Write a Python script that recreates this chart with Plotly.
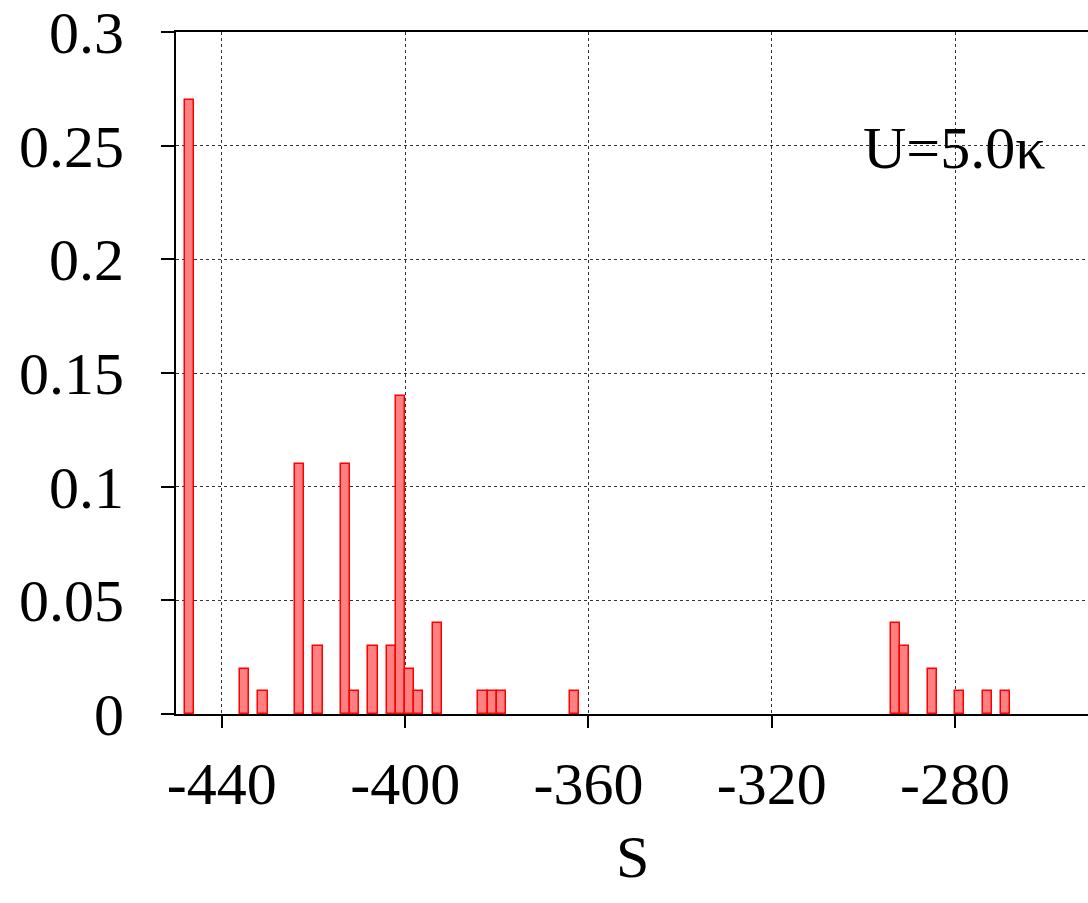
import plotly.graph_objects as go

# bin centres (bin width 2) and fractions
s_centers = [-447, -435, -431, -423, -419, -413, -411, -407, -403, -401, -399, -397,
             -393, -383, -381, -379, -363, -293, -291, -285, -279, -273, -269]
fractions = [0.27, 0.02, 0.01, 0.11, 0.03, 0.11, 0.01, 0.03, 0.03, 0.14, 0.02, 0.01,
             0.04, 0.01, 0.01, 0.01, 0.01, 0.04, 0.03, 0.02, 0.01, 0.01, 0.01]
bin_width = 2
x_ticks = [-440, -400, -360, -320, -280]
y_ticks = [0, 0.05, 0.1, 0.15, 0.2, 0.25, 0.3]
y_tick_labels = ["0", "0.05", "0.1", "0.15", "0.2", "0.25", "0.3"]

FONT = "Liberation Serif"
FS = 60
W, H = 1088, 903
L, R, T, B = 176, 0, 32, 903 - 714
pw = W - L - R
ph = H - T - B


def py(page_y):
    return (T + ph - page_y) / ph


def px(page_x):
    return (page_x - L) / pw


fig = go.Figure()
fig.add_trace(go.Bar(
    x=s_centers, y=fractions, width=[bin_width] * len(s_centers),
    marker=dict(color="#ff8080", line=dict(color="#ff0000", width=1.5)),
    showlegend=False,
))

fig.update_layout(
    width=W, height=H,
    margin=dict(l=L, r=R, t=T, b=B, autoexpand=False),
    plot_bgcolor="white", paper_bgcolor="white",
    font=dict(family=FONT, size=FS, color="black"),
    bargap=0,
    xaxis=dict(
        range=[-450, -251], tickvals=x_ticks, ticktext=[str(v) for v in x_ticks],
        showline=True, linecolor="black", linewidth=2, mirror=True,
        ticks="outside", ticklen=12, tickwidth=2, tickcolor="black",
        showgrid=True, gridcolor="#333333", gridwidth=1, griddash="dot",
        zeroline=False, ticklabelstandoff=4, automargin=False,
        tickfont=dict(family=FONT, size=FS),
    ),
    yaxis=dict(
        range=[0, 0.3], tickvals=y_ticks, ticktext=y_tick_labels,
        showline=True, linecolor="black", linewidth=2, mirror=False,
        ticks="outside", ticklen=13, tickwidth=2, tickcolor="black",
        showgrid=True, gridcolor="#333333", gridwidth=1, griddash="dot",
        zeroline=False, ticklabelstandoff=25, automargin=False,
        tickfont=dict(family=FONT, size=FS),
    ),
    annotations=[
        dict(x=px(1047), y=py(148), xref="paper", yref="paper",
             text="U=5.0κ", showarrow=False, xanchor="right", yanchor="middle",
             font=dict(family=FONT, size=FS, color="black")),
        dict(x=px(632), y=py(857), xref="paper", yref="paper",
             text="S", showarrow=False, xanchor="center", yanchor="middle",
             font=dict(family=FONT, size=FS, color="black")),
    ],
)

fig.write_html(
    "out.html",
    config={"displayModeBar": False},
    post_script="document.body.style.margin='0';document.body.style.overflow='hidden';",
)
